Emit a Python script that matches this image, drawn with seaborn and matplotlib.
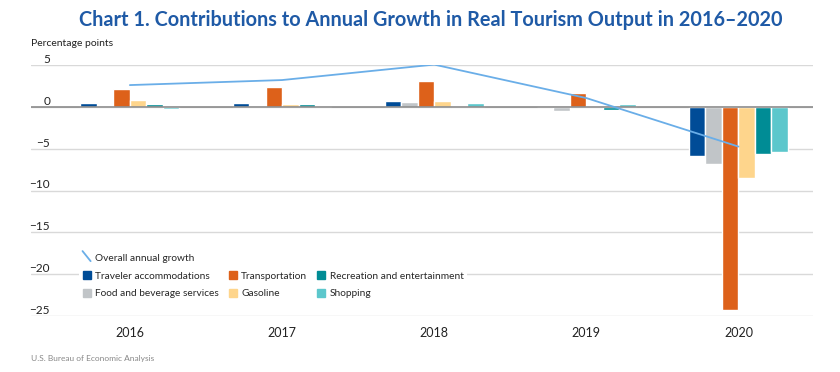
import numpy as np
import pandas as pd
import seaborn as sns
import matplotlib.pyplot as plt
from matplotlib.lines import Line2D
from matplotlib.patches import Patch
from matplotlib.legend_handler import HandlerBase

years = ['2016', '2017', '2018', '2019', '2020']
categories = ['Traveler accommodations', 'Food and beverage services', 'Transportation',
              'Gasoline', 'Recreation and entertainment', 'Shopping']
colors = ['#004c97', '#c1c5c8', '#dd611a', '#fed58c', '#008c95', '#5cc7cc']

accommodations = [0.4, 0.5, 0.72, 0.02, -5.86]
food_beverage = [0.05, 0.05, 0.6, -0.55, -6.82]
transportation = [2.1, 2.35, 3.07, 1.7, -24.3]
gasoline = [0.85, 0.35, 0.72, 0.05, -8.45]
recreation = [0.3, 0.28, 0.15, -0.4, -5.66]
shopping = [-0.3, 0.05, 0.48, 0.28, -5.38]
overall_growth = [2.6, 3.2, 5.05, 1.05, -4.75]

series = [accommodations, food_beverage, transportation, gasoline, recreation, shopping]
rows = []
for cat, vals in zip(categories, series):
    for yr, v in zip(years, vals):
        rows.append({'year': yr, 'category': cat, 'value': v})
df = pd.DataFrame(rows)


# diagonal line in the legend, like the original
class DiagLine(HandlerBase):
    def create_artists(self, legend, orig, x0, y0, width, height, fontsize, trans):
        ln = Line2D([x0, x0 + width], [y0 + height * 1.1, y0 - height * 0.1],
                    color=orig.get_color(), lw=orig.get_linewidth(), transform=trans)
        return [ln]


sns.set_style('white')
plt.rcParams['font.family'] = ['Lato', 'DejaVu Sans']

fig = plt.figure(figsize=(8.4, 3.72), dpi=100)
ax = fig.add_axes([31 / 840, 1 - 316 / 372, (813 - 31) / 840, (316 - 65) / 372])

sns.barplot(data=df, x='year', y='value', hue='category', order=years, hue_order=categories,
            palette=colors, width=0.65, gap=0, saturation=1, legend=False, ax=ax)
ax.plot(np.arange(len(years)), overall_growth, color='#6aaee8', lw=1.3, zorder=5)

ax.set_xlim(-0.65, 4.49)
ax.set_ylim(-25, 5)
ax.set_yticks([5, 0, -5, -10, -15, -20, -25])
ax.set_yticklabels(['5', '0', '\u22125', '\u221210', '\u221215', '\u221220', '\u221225'])
ax.yaxis.grid(True, color='#d9d9d9', lw=1)
ax.axhline(0, color='#8c8c8c', lw=1.2, zorder=3)
ax.tick_params(axis='y', length=0, pad=-13.7, labelsize=8.5, labelcolor='#222222')
for lab in ax.get_yticklabels():
    lab.set_verticalalignment('bottom')
    lab.set_horizontalalignment('right')
ax.tick_params(axis='x', length=0, pad=8, labelsize=9, labelcolor='#222222')
for s in ax.spines.values():
    s.set_visible(False)
ax.set_xlabel('')
ax.set_ylabel('')

line_handle = Line2D([], [], color='#6aaee8', lw=1.3)
handles = [line_handle]
labels = ['Overall annual growth']
blank = Patch(facecolor='none', edgecolor='none')
handles += [Patch(color=colors[0]), Patch(color=colors[1]), blank,
            Patch(color=colors[2]), Patch(color=colors[3]), blank,
            Patch(color=colors[4]), Patch(color=colors[5])]
labels += [categories[0], categories[1], '', categories[2], categories[3], '',
           categories[4], categories[5]]
leg = ax.legend(handles, labels, ncol=3, loc='upper left', bbox_to_anchor=(0.0555, 0.282),
                frameon=True, fontsize=7.3, handlelength=0.8, handleheight=0.9,
                handletextpad=0.45, columnspacing=0.95, labelspacing=0.78, borderpad=0.3,
                handler_map={line_handle: DiagLine()})
leg.get_frame().set_facecolor('white')
leg.get_frame().set_edgecolor('none')
leg.get_frame().set_alpha(1)

fig.text(0.513, 0.945, 'Chart 1. Contributions to Annual Growth in Real Tourism Output in 2016\u20132020',
         ha='center', va='center', fontsize=14.3, fontweight='bold', color='#1f5aa6')
fig.text(31 / 840, 1 - 44 / 372, 'Percentage points', ha='left', va='center', fontsize=7.5,
         color='#222222')
fig.text(31 / 840, 1 - 358 / 372, 'U.S. Bureau of Economic Analysis', ha='left', va='center',
         fontsize=6, color='#888888')

fig.savefig('out.png', dpi=100, facecolor='white')
